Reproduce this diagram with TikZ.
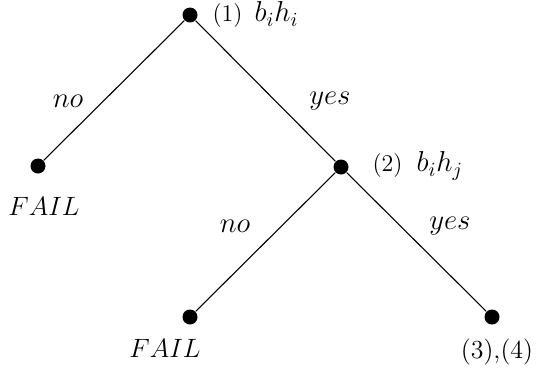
\documentclass[tikz,border=0pt]{standalone}
\usepackage{graphicx}
\usepackage{xcolor}
\usepackage{tikz}

\begin{document}
\begin{tikzpicture}[x=0.5pt, y=-0.5pt, line width=0.55pt,
    dot/.style={circle, fill=black, inner sep=0pt, minimum size=7.5pt},
    lbl/.style={font=\Large, inner sep=0pt},
    end/.style={font=\fontsize{13}{15}\selectfont, inner sep=0pt}]
    \useasboundingbox (0,0) rectangle (536,376);
    % decision points
    \node[dot] (root) at (190,15) {};
    \node[dot] (failA) at (38,166) {};
    \node[dot] (test) at (341,167) {};
    \node[dot] (failB) at (190,317) {};
    \node[dot] (done) at (492,317) {};
    % branches
    \draw (root) -- (failA);
    \draw (root) -- (test);
    \draw (test) -- (failB);
    \draw (test) -- (done);
    % texts
    \node[lbl, anchor=west] (rootlbl) at (212,15)
      {{\fontsize{12}{14}\selectfont(1)}\hspace{6pt}$b_ih_i$};
    \node[lbl, anchor=west] (testlbl) at (372,166)
      {{\fontsize{12}{14}\selectfont(2)}\hspace{7pt}$b_ih_j$};
    \node[lbl] (nolbl) at (68,101) {$no$};
    \node[lbl] (yeslbl) at (330,101) {$yes$};
    \node[lbl] (nolblB) at (235,226) {$no$};
    \node[lbl] (yeslblB) at (450,226) {$yes$};
    \node[lbl] (failAlbl) at (44,206) {\scalebox{0.92}{$FAIL$}};
    \node[lbl] (failBlbl) at (165,348) {\scalebox{0.92}{$FAIL$}};
    \node[end] (donelbl) at (497,352) {(3),(4)};
\end{tikzpicture}
\end{document}
